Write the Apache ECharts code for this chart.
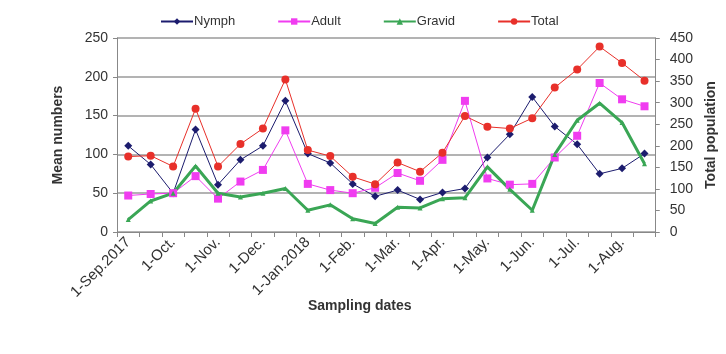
<!DOCTYPE html>
<html>
<head>
<meta charset="utf-8">
<script src="https://cdn.jsdelivr.net/npm/echarts@6/dist/echarts.min.js"></script>
<style>
html,body{margin:0;padding:0;background:#fff;}
#chart{width:726px;height:354px;}
</style>
</head>
<body>
<div id="chart"></div>
<script>
// Biweekly sampling dates, Sep 2017 - Aug 2018
var categories = ['1-Sep.2017','15-Sep','1-Oct.','15-Oct','1-Nov.','15-Nov','1-Dec.','15-Dec',
  '1-Jan.2018','15-Jan','1-Feb.','15-Feb','1-Mar.','15-Mar','1-Apr.','15-Apr',
  '1-May.','15-May','1-Jun.','15-Jun','1-Jul.','15-Jul','1-Aug.','15-Aug'];
var nymph  = [111,87,50,132,61,93,111,169,101,89,62,46,54,42,51,56,96,126,174,136,113,75,82,101];
var adult  = [47,49,50,72,43,65,80,131,62,54,50,57,76,66,93,169,69,61,62,96,124,192,171,162];
var gravid = [16,40,50,85,50,45,50,56,28,35,17,11,32,31,43,44,84,55,28,100,144,166,141,88];
var total  = [175,177,152,286,152,204,240,354,190,176,128,111,161,140,184,269,244,240,264,335,377,430,392,351];
var leftTicks = {min:0, max:250, interval:50};
var rightTicks = {min:0, max:450, interval:50};

var FONT = '"Liberation Sans", Arial, sans-serif';
var chart = echarts.init(document.getElementById('chart'), null, {renderer:'canvas'});
chart.setOption({
  animation:false,
  backgroundColor:'#ffffff',
  textStyle:{fontFamily:FONT},
  title:{text:'Sampling dates', left:303, top:294,
    textStyle:{fontFamily:FONT, fontSize:14, fontWeight:'bold', color:'#333'}},
  legend:{
    left:155, top:10, itemGap:42, itemWidth:32, itemHeight:8,
    textStyle:{fontFamily:FONT, fontSize:13, color:'#333', padding:[0,0,0,-4]},
    data:['Nymph','Adult','Gravid','Total']
  },
  grid:{left:117, right:69, top:38, bottom:122, containLabel:false},
  xAxis:{
    type:'category', data:categories, boundaryGap:true,
    axisLine:{lineStyle:{color:'#888', width:1}},
    axisTick:{show:true, interval:0, length:5, lineStyle:{color:'#888'}},
    axisLabel:{interval:1, rotate:45, fontSize:15, color:'#333', margin:8, fontFamily:FONT}
  },
  yAxis:[
    {type:'value', min:leftTicks.min, max:leftTicks.max, interval:leftTicks.interval,
     name:'Mean numbers', nameLocation:'middle', nameGap:52,
     nameTextStyle:{fontFamily:FONT, fontSize:14, fontWeight:'bold', color:'#333'},
     axisLine:{show:true, lineStyle:{color:'#888'}},
     axisTick:{show:true, length:4, lineStyle:{color:'#888'}},
     axisLabel:{fontSize:14, color:'#333', margin:9, fontFamily:FONT},
     splitLine:{show:true, lineStyle:{color:'#9a9a9a', width:1.5}}},
    {type:'value', min:rightTicks.min, max:rightTicks.max, interval:rightTicks.interval,
     name:'Total population', nameLocation:'middle', nameGap:48,
     nameTextStyle:{fontFamily:FONT, fontSize:14, fontWeight:'bold', color:'#333'},
     axisLine:{show:true, lineStyle:{color:'#888'}},
     axisTick:{show:true, length:4, lineStyle:{color:'#888'}},
     axisLabel:{fontSize:14, color:'#333', margin:14, fontFamily:FONT},
     splitLine:{show:false}}
  ],
  series:[
    {name:'Nymph', type:'line', yAxisIndex:0, data:nymph, symbol:'diamond', symbolSize:8,
     color:'#1c1c6e', lineStyle:{width:1, color:'#1c1c6e'}, itemStyle:{color:'#1c1c6e'}},
    {name:'Adult', type:'line', yAxisIndex:0, data:adult, symbol:'rect', symbolSize:8,
     color:'#f03cf0', lineStyle:{width:1, color:'#f03cf0'}, itemStyle:{color:'#f03cf0'}},
    {name:'Gravid', type:'line', yAxisIndex:0, data:gravid, symbol:'triangle', symbolSize:5,
     color:'#3aa655', lineStyle:{width:3, color:'#3aa655'}, itemStyle:{color:'#3aa655'}},
    {name:'Total', type:'line', yAxisIndex:1, data:total, symbol:'circle', symbolSize:8,
     color:'#e8302a', lineStyle:{width:1, color:'#e8302a'}, itemStyle:{color:'#e8302a'}}
  ]
});
</script>
</body>
</html>
